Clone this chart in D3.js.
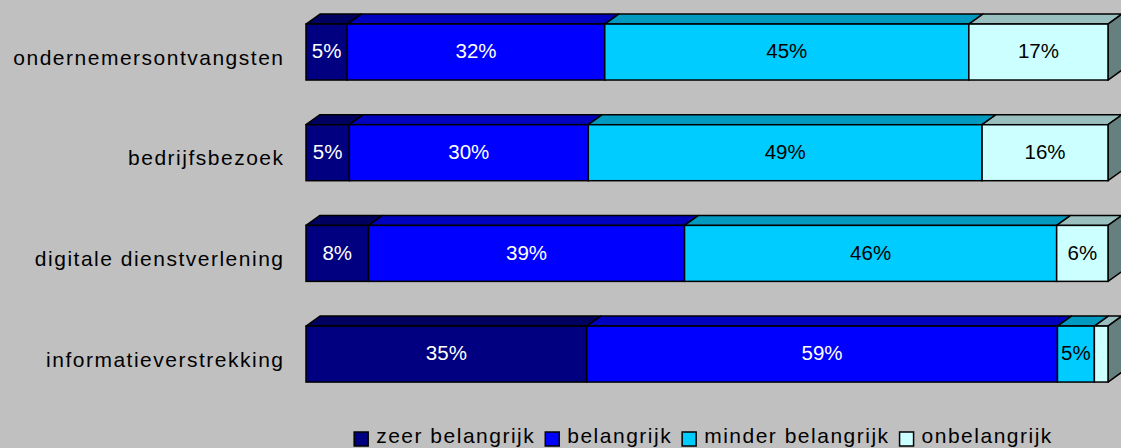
<!DOCTYPE html>
<html><head><meta charset="utf-8">
<script src="https://cdn.jsdelivr.net/npm/d3@7/dist/d3.min.js"></script>
<style>
html,body{margin:0;padding:0;background:#c0c0c0;}
svg{display:block;}
text{font-family:"Liberation Sans",Arial,sans-serif;}
</style></head>
<body><svg id="chart" width="1121" height="448"></svg>
<script>
const categories = ["ondernemersontvangsten", "bedrijfsbezoek", "digitale dienstverlening", "informatieverstrekking"];
const seriesNames = ["zeer belangrijk", "belangrijk", "minder belangrijk", "onbelangrijk"];
const zeerBelangrijk = [5.15, 5.4, 7.8, 35.0];
const belangrijk = [32.1, 29.8, 39.4, 58.7];
const minderBelangrijk = [45.4, 49.1, 46.4, 4.6];
const onbelangrijk = [17.35, 15.7, 6.4, 1.7];

const frontColors = ["#000080", "#0000FF", "#00CCFF", "#CCFFFF"];
const topColors = ["#000060", "#0000BF", "#0099BF", "#99BFBF"];
const sideColors = ["#000040", "#000080", "#006680", "#668080"];
const labelColors = ["#ffffff", "#ffffff", "#000000", "#000000"];

const seriesArrays = [zeerBelangrijk, belangrijk, minderBelangrijk, onbelangrijk];
const rows = categories.map((c, i) => {
  const r = {cat: c};
  seriesNames.forEach((s, j) => r[s] = seriesArrays[j][i]);
  return r;
});
const stacked = d3.stack().keys(seriesNames)(rows);

const svg = d3.select("#chart");
svg.append("rect").attr("width", 1121).attr("height", 448).attr("fill", "#c0c0c0");

const x = d3.scaleLinear().domain([0, 100]).range([306, 1108]);
const y = d3.scaleBand().domain(categories).range([1.7, 404.4]).paddingInner(0.444).paddingOuter(0.222);
const dx = 14, dy = 10;

const g = svg.append("g");
categories.forEach((cat, i) => {
  const top = y(cat), h = y.bandwidth(), bot = top + h;
  const bg = g.append("g");
  stacked.forEach((s, j) => {
    const x0 = x(s[i][0]), x1 = x(s[i][1]);
    bg.append("path")
      .attr("d", `M${x0},${top}L${x0+dx},${top-dy}L${x1+dx},${top-dy}L${x1},${top}Z`)
      .attr("fill", topColors[j]).attr("stroke", "#000").attr("stroke-width", 1.5).attr("stroke-linejoin", "round");
  });
  const last = stacked[stacked.length - 1];
  const xe = x(last[i][1]);
  bg.append("path")
    .attr("d", `M${xe},${top}L${xe+dx},${top-dy}L${xe+dx},${bot-dy}L${xe},${bot}Z`)
    .attr("fill", sideColors[stacked.length - 1]).attr("stroke", "#000").attr("stroke-width", 1.5).attr("stroke-linejoin", "round");
  stacked.forEach((s, j) => {
    const x0 = x(s[i][0]), x1 = x(s[i][1]);
    bg.append("rect").attr("x", x0).attr("y", top).attr("width", x1 - x0).attr("height", h)
      .attr("fill", frontColors[j]).attr("stroke", "#000").attr("stroke-width", 1.5);
  });
  stacked.forEach((s, j) => {
    const v = s[i][1] - s[i][0];
    if (v < 3) return;
    bg.append("text")
      .attr("x", (x(s[i][0]) + x(s[i][1])) / 2)
      .attr("y", top + h / 2 - 1).attr("dy", "0.36em")
      .attr("text-anchor", "middle").attr("font-size", "20.5px")
      .attr("fill", labelColors[j])
      .text(Math.round(v) + "%");
  });
});

const ls = 1.5;
svg.append("g").selectAll("text").data(categories).join("text")
  .attr("x", 283 + ls).attr("y", d => y(d) + y.bandwidth() / 2 + 12.5)
  .attr("text-anchor", "end").attr("font-size", "21px").attr("letter-spacing", ls + "px")
  .attr("fill", "#000").text(d => d);

const leg = svg.append("g");
let cx = 0;
seriesNames.forEach((s, j) => {
  const it = leg.append("g").attr("transform", `translate(${cx},0)`);
  it.append("rect").attr("x", 0).attr("y", 432).attr("width", 14).attr("height", 14)
    .attr("fill", frontColors[j]).attr("stroke", "#000").attr("stroke-width", 1.5);
  const t = it.append("text").attr("x", 22).attr("y", 442.5).attr("font-size", "21px")
    .attr("letter-spacing", ls + "px").attr("fill", "#000").text(s);
  const w = t.node().getComputedTextLength();
  cx += 22 + w + 10;
});
const totalW = cx - 10;
leg.attr("transform", `translate(${703.5 - totalW / 2},0)`);
</script></body></html>
